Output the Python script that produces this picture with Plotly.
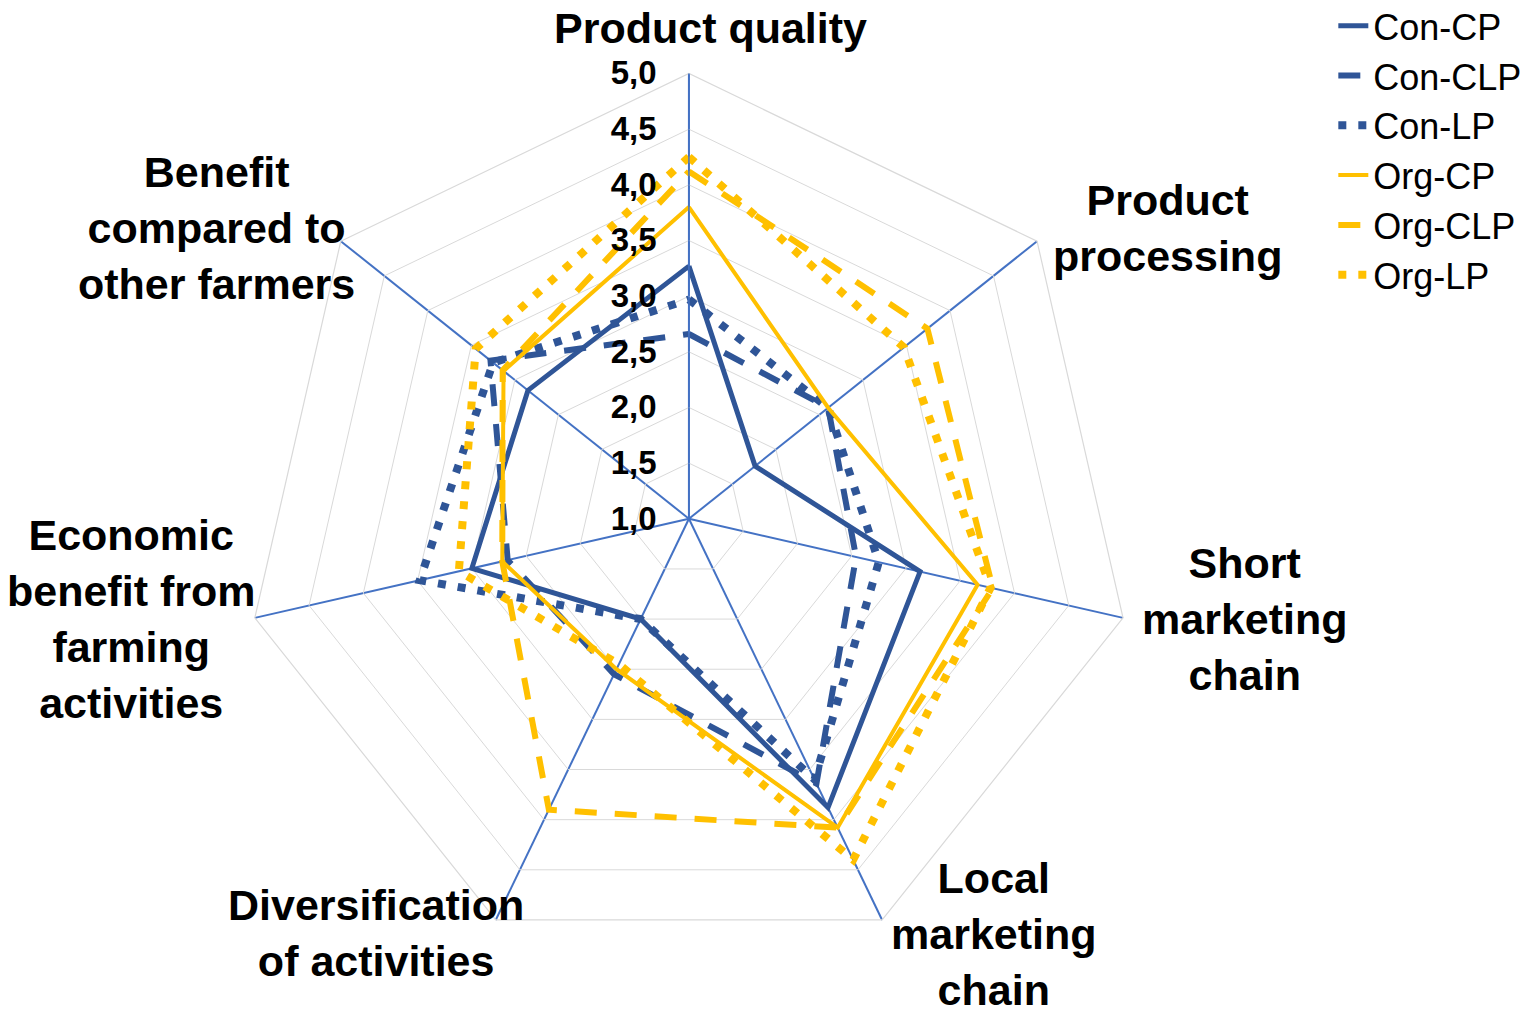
import plotly.graph_objects as go

categories = [
    "Product quality",
    "Product processing",
    "Short marketing chain",
    "Local marketing chain",
    "Diversification of activities",
    "Economic benefit from farming activities",
    "Benefit compared to other farmers",
]
category_labels = [
    "Product quality",
    "Product<br>processing",
    "Short<br>marketing<br>chain",
    "Local<br>marketing<br>chain",
    "Diversification<br>of activities",
    "Economic<br>benefit from<br>farming<br>activities",
    "Benefit<br>compared to<br>other farmers",
]

con_cp = [3.27, 1.76, 3.13, 3.88, 2.00, 3.00, 2.85]
con_clp = [2.66, 2.60, 2.54, 3.64, 2.55, 2.67, 3.28]
con_lp = [2.97, 2.60, 2.75, 3.60, 2.00, 3.48, 3.25]
org_cp = [3.80, 2.60, 3.66, 4.08, 2.50, 2.72, 3.13]
org_clp = [4.12, 3.74, 3.80, 4.08, 3.90, 2.72, 3.14]
org_lp = [4.25, 3.47, 3.78, 4.40, 2.45, 3.12, 3.45]

tick_vals = [1.0, 1.5, 2.0, 2.5, 3.0, 3.5, 4.0, 4.5, 5.0]
tick_text = ["1,0", "1,5", "2,0", "2,5", "3,0", "3,5", "4,0", "4,5", "5,0"]

W, H = 1535, 1016
BLUE = "#2F5597"
GOLD = "#FFC000"
FONT = "Liberation Sans, Arial, sans-serif"

# layout: label block centres in pixels (figure coords, from top-left)
label_pos_px = [
    (702, 20), (1159, 220), (1237, 611), (986, 926),
    (368, 925), (123, 611), (208, 220),
]

series = [
    ("Con-CP", con_cp, BLUE, 5, "solid"),
    ("Con-CLP", con_clp, BLUE, 6, "22px,18px"),
    ("Con-LP", con_lp, BLUE, 8, "8px,12px"),
    ("Org-CP", org_cp, GOLD, 4, "solid"),
    ("Org-CLP", org_clp, GOLD, 6, "22px,18px"),
    ("Org-LP", org_lp, GOLD, 8, "8px,12px"),
]

fig = go.Figure()
for name, vals, color, width, dash in series:
    fig.add_trace(go.Scatterpolar(
        r=vals + vals[:1],
        theta=categories + categories[:1],
        mode="lines",
        name=name,
        line=dict(color=color, width=width, dash=dash),
    ))

annotations = []
for text, (px, py) in zip(category_labels, label_pos_px):
    annotations.append(dict(
        text=text, xref="paper", yref="paper",
        x=px / W, y=1 - py / H, xanchor="center", yanchor="middle",
        showarrow=False, align="center",
        font=dict(size=43, family=FONT, color="black", weight="bold"),
    ))

fig.update_layout(
    width=W,
    height=H,
    margin=dict(l=0, r=0, t=0, b=0, autoexpand=False),
    paper_bgcolor="white",
    plot_bgcolor="white",
    font=dict(family=FONT, color="black"),
    annotations=annotations,
    polar=dict(
        domain=dict(x=[0.1534, 0.7338], y=[0.0590, 0.9355]),
        bgcolor="white",
        gridshape="linear",
        radialaxis=dict(
            range=[1, 5],
            tickvals=tick_vals,
            ticktext=tick_text,
            angle=90,
            tickangle=90,
            side="counterclockwise",
            showline=True,
            linecolor="#4472C4",
            linewidth=1.5,
            gridcolor="#D9D9D9",
            gridwidth=1.2,
            ticks="outside",
            ticklen=20,
            tickcolor="rgba(0,0,0,0)",
            tickfont=dict(size=33, family=FONT, color="black", weight="bold"),
        ),
        angularaxis=dict(
            direction="clockwise",
            rotation=90,
            showline=True,
            linecolor="#D9D9D9",
            linewidth=1.2,
            gridcolor="#4472C4",
            gridwidth=1.5,
            ticks="",
            showticklabels=False,
        ),
    ),
    legend=dict(
        x=0.8634, xanchor="left", y=1.012, yanchor="top",
        font=dict(size=36, family=FONT, color="black"),
        bgcolor="rgba(0,0,0,0)",
        tracegroupgap=0,
    ),
)

fig.write_html("out.html")
